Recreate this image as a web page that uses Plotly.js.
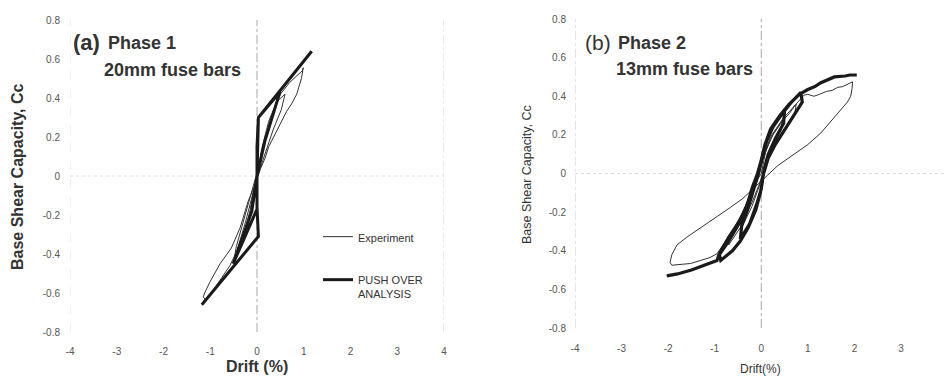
<!DOCTYPE html>
<html><head><meta charset="utf-8">
<script src="https://cdn.plot.ly/plotly-3.0.1.min.js"></script>
<style>html,body{margin:0;padding:0;background:#fff}#c{width:944px;height:377px}</style>
</head><body><div id="c"></div>
<script>
// ---- Phase 1 (20mm fuse bars) ----
const p1ExpDrift = [0,0.08,0.15,0.1,0.02,-0.06,-0.14,-0.08,0,
  0.1,0.25,0.42,0.6,0.52,0.35,0.18,0.04,-0.1,-0.25,-0.4,-0.5,-0.44,-0.3,-0.15,-0.02,
  0.1,0.3,0.5,0.7,0.88,0.97,0.99,0.95,0.85,0.74,0.63,0.5,0.35,0.25,0.17,0.08,-0.05,-0.19,-0.36,-0.55,-0.79,-1.0,-1.12,-1.15,-1.1,-0.95,-0.75,-0.58,-0.4,-0.25,-0.12,0];
const p1ExpCc = [0,0.1,0.18,0.1,0.0,-0.08,-0.17,-0.08,0,
  0.14,0.28,0.38,0.42,0.34,0.24,0.12,0.02,-0.1,-0.24,-0.36,-0.44,-0.36,-0.24,-0.12,0.0,
  0.12,0.3,0.42,0.48,0.52,0.54,0.555,0.5,0.42,0.37,0.33,0.27,0.2,0.15,0.09,0.04,-0.05,-0.13,-0.265,-0.37,-0.45,-0.54,-0.6,-0.62,-0.635,-0.59,-0.52,-0.46,-0.37,-0.27,-0.15,0];
const p1PushDrift = [-1.18,-0.5,0.03,0.0,0.0,0.03,0.49,0.17,0.0,0.0,-0.51,-0.11,0.0,0.0,0.03,0.5,1.17];
const p1PushCc    = [-0.66,-0.46,-0.31,-0.16,0.0,0.3,0.43,0.18,0.0,-0.17,-0.45,-0.18,0.0,0.15,0.3,0.44,0.64];

// ---- Phase 2 (13mm fuse bars) ----
const p2ExpDrift = [0,0.1,0.25,0.45,0.42,0.25,0.08,-0.05,-0.2,-0.4,-0.38,-0.22,-0.08,0.04,0.2,0.4,0.6,0.75,0.72,0.5,0.3,0.1,-0.05,-0.2,-0.45,-0.7,-0.66,-0.45,-0.25,-0.1,0.03,0.2,0.45,0.7,
  0.92,1.0,1.13,1.25,1.4,1.52,1.64,1.75,1.85,1.96,1.95,1.92,1.85,1.71,1.55,1.28,1.0,0.63,0.35,0.13,-0.19,-0.4,-0.66,-1.0,-1.38,-1.6,-1.81,-1.92,-1.96,-1.92,-1.7,-1.52,-1.3,-1.1,-0.95,-0.8,-0.6,-0.4,-0.2,-0.08,0];
const p2ExpCc = [0,0.12,0.2,0.27,0.22,0.14,0.03,-0.07,-0.17,-0.27,-0.22,-0.13,-0.03,0.08,0.19,0.26,0.31,0.36,0.31,0.23,0.15,0.05,-0.06,-0.15,-0.28,-0.37,-0.32,-0.23,-0.12,-0.03,0.07,0.18,0.28,0.35,
  0.406,0.41,0.40,0.41,0.425,0.43,0.446,0.45,0.46,0.475,0.44,0.40,0.37,0.33,0.29,0.21,0.15,0.085,0.04,-0.01,-0.08,-0.13,-0.175,-0.23,-0.295,-0.33,-0.37,-0.42,-0.46,-0.475,-0.47,-0.466,-0.45,-0.435,-0.415,-0.36,-0.29,-0.2,-0.1,-0.03,0];
const p2PushDrift = [-2.03,-1.8,-1.5,-1.2,-0.95,-0.91,
  -0.7,-0.45,-0.3,-0.19,-0.08,0,0.1,0.2,0.35,0.5,
  0.48,0.3,0.15,0.06,0,-0.1,-0.25,-0.45,
  -0.42,-0.3,-0.17,-0.06,0.02,0.12,0.25,0.45,0.65,0.85,
  0.88,0.75,0.6,0.45,0.3,0.15,0.05,-0.02,-0.12,-0.28,-0.45,-0.62,-0.87,
  -0.9,-0.7,-0.48,-0.32,-0.2,-0.1,-0.02,0.08,0.2,0.4,0.6,0.82,
  1.0,1.15,1.28,1.45,1.57,1.8,1.9,2.05];
const p2PushCc = [-0.53,-0.52,-0.5,-0.475,-0.45,-0.42,
  -0.33,-0.24,-0.16,-0.07,0.0,0.07,0.16,0.22,0.28,0.33,
  0.26,0.18,0.1,0.02,-0.08,-0.16,-0.26,-0.34,
  -0.27,-0.19,-0.09,0.0,0.08,0.17,0.24,0.31,0.37,0.42,
  0.37,0.32,0.27,0.21,0.15,0.08,0.0,-0.1,-0.19,-0.28,-0.35,-0.4,-0.45,
  -0.42,-0.35,-0.26,-0.17,-0.09,-0.02,0.05,0.15,0.23,0.3,0.36,0.41,
  0.435,0.45,0.47,0.485,0.5,0.505,0.51,0.51];

const xTicks = [-4,-3,-2,-1,0,1,2,3,4];
const xTickText = ['-4','-3','-2','-1','0','1','2','3','4'];
const yTicks = [-0.8,-0.6,-0.4,-0.2,0,0.2,0.4,0.6,0.8];
const yTickText = ['-0.8','-0.6','-0.4','-0.2','0','0.2','0.4','0.6','0.8'];

const FONT = 'Arial, "Liberation Sans", sans-serif';
const INK = '#1a1a1a';

const traces = [
  {x:p1ExpDrift, y:p1ExpCc, xaxis:'x', yaxis:'y', mode:'lines', name:'Experiment',
   line:{color:'#333', width:1}, legendgroup:'e'},
  {x:p1PushDrift, y:p1PushCc, xaxis:'x', yaxis:'y', mode:'lines', name:'PUSH OVER<br>ANALYSIS',
   line:{color:INK, width:3}, legendgroup:'p'},
  {x:p2ExpDrift, y:p2ExpCc, xaxis:'x2', yaxis:'y2', mode:'lines', showlegend:false,
   line:{color:'#333', width:1}},
  {x:p2PushDrift, y:p2PushCc, xaxis:'x2', yaxis:'y2', mode:'lines', showlegend:false,
   line:{color:INK, width:3.2}}
];

const W=944, H=377;
const axBase = {showgrid:false, zeroline:false, showline:false, ticks:'',
  tickfont:{family:FONT, size:10, color:'#555'}, fixedrange:true};

const guide = (xr, yr, xv, col, dash) => ({type:'line', xref:xr, yref:yr+' domain', x0:xv, x1:xv, y0:0, y1:1,
  line:{color:col, width:1, dash:dash}, layer:'below'});
const hguide = (xr, yr) => ({type:'line', xref:xr+' domain', yref:yr, x0:0, x1:1, y0:0, y1:0,
  line:{color:'#dcdcdc', width:1, dash:'dot'}, layer:'below'});

const layout = {
  width:W, height:H, margin:{l:0,r:0,t:0,b:0}, paper_bgcolor:'#fff', plot_bgcolor:'rgba(0,0,0,0)',
  font:{family:FONT, color:'#333'},
  xaxis: Object.assign({}, axBase, {domain:[70/W, 444/W], range:[-4,4], tickvals:xTicks, ticktext:xTickText, anchor:'y', ticklabelstandoff:12}),
  yaxis: Object.assign({}, axBase, {domain:[(H-332)/H, (H-20)/H], range:[-0.8,0.8], tickvals:yTicks, ticktext:yTickText, anchor:'x', ticklabelstandoff:9}),
  xaxis2: Object.assign({}, axBase, {domain:[575/W, 1], range:[-4, -4+(944-575)/46.57], tickvals:xTicks, ticktext:xTickText, anchor:'y2', ticklabelstandoff:13}),
  yaxis2: Object.assign({}, axBase, {domain:[(H-328)/H, (H-19)/H], range:[-0.8,0.8], tickvals:yTicks, ticktext:yTickText, anchor:'x2', ticklabelstandoff:8}),
  showlegend:true,
  legend:{x:318/W, y:1-223/H, xanchor:'left', yanchor:'top', bgcolor:'rgba(0,0,0,0)',
    font:{family:FONT, size:11, color:'#333'}, traceorder:'grouped', tracegroupgap:24, valign:'top', itemwidth:30},
  shapes:[
    guide('x','y',-4,'#e2e2e2','dash'), guide('x','y',0,'#a8a8a8','dashdot'), guide('x','y',4,'#d6d6d6','dashdot'),
    hguide('x','y'),
    guide('x2','y2',-4,'#cfcfcf','dashdot'), guide('x2','y2',0,'#a8a8a8','dashdot'),
    hguide('x2','y2')
  ],
  annotations:[
    {xref:'paper', yref:'paper', x:71/W, y:1-43/H, xanchor:'left', yanchor:'middle', showarrow:false,
     text:'<b>(a)</b>', font:{family:FONT, size:22, color:'#333'}},
    {xref:'paper', yref:'paper', x:106/W, y:1-43/H, xanchor:'left', yanchor:'middle', showarrow:false,
     text:'<b>Phase 1</b>', font:{family:FONT, size:18, color:'#333'}},
    {xref:'paper', yref:'paper', x:102/W, y:1-70/H, xanchor:'left', yanchor:'middle', showarrow:false,
     text:'<b>20mm fuse bars</b>', font:{family:FONT, size:18, color:'#333'}},
    {xref:'paper', yref:'paper', x:583/W, y:1-43/H, xanchor:'left', yanchor:'middle', showarrow:false,
     text:'(b)', font:{family:FONT, size:21, color:'#333'}},
    {xref:'paper', yref:'paper', x:616/W, y:1-43/H, xanchor:'left', yanchor:'middle', showarrow:false,
     text:'<b>Phase 2</b>', font:{family:FONT, size:18, color:'#333'}},
    {xref:'paper', yref:'paper', x:614/W, y:1-69/H, xanchor:'left', yanchor:'middle', showarrow:false,
     text:'<b>13mm fuse bars</b>', font:{family:FONT, size:18, color:'#333'}},
    {xref:'paper', yref:'paper', x:18/W, y:1-177/H, xanchor:'center', yanchor:'middle', showarrow:false, textangle:-90,
     text:'<b>Base Shear Capacity, Cc</b>', font:{family:FONT, size:16, color:'#333'}},
    {xref:'paper', yref:'paper', x:257/W, y:1-366/H, xanchor:'center', yanchor:'middle', showarrow:false,
     text:'<b>Drift (%)</b>', font:{family:FONT, size:16, color:'#333'}},
    {xref:'paper', yref:'paper', x:527/W, y:1-175/H, xanchor:'center', yanchor:'middle', showarrow:false, textangle:-90,
     text:'Base Shear Capacity, Cc', font:{family:FONT, size:12.5, color:'#333'}},
    {xref:'paper', yref:'paper', x:760/W, y:1-369/H, xanchor:'center', yanchor:'middle', showarrow:false,
     text:'Drift(%)', font:{family:FONT, size:12, color:'#333'}}
  ]
};

Plotly.newPlot('c', traces, layout, {staticPlot:true, displayModeBar:false});
</script></body></html>
